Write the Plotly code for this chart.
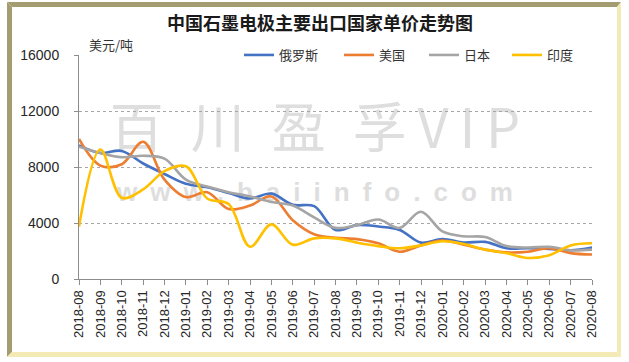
import plotly.graph_objects as go

months = ["2018-08", "2018-09", "2018-10", "2018-11", "2018-12", "2019-01", "2019-02",
          "2019-03", "2019-04", "2019-05", "2019-06", "2019-07", "2019-08", "2019-09",
          "2019-10", "2019-11", "2019-12", "2020-01", "2020-02", "2020-03", "2020-04",
          "2020-05", "2020-06", "2020-07", "2020-08"]

russia = [9550, 9000, 9150, 8250, 7500, 6800, 6550, 6150, 5750, 6100, 5300, 5200,
          3500, 3850, 3750, 3500, 2600, 2850, 2600, 2650, 2200, 2200, 2150, 2050, 2250]
usa = [10000, 8100, 8200, 9800, 7100, 5850, 6200, 5000, 5250, 5900, 4200, 3200,
       2950, 2850, 2550, 1950, 2400, 2750, 2450, 2100, 1900, 1950, 2200, 1850, 1750]
japan = [9450, 9000, 8700, 8800, 8600, 7100, 6600, 6200, 5900, 5500, 5250, 4400,
         3650, 3850, 4250, 3650, 4800, 3400, 3050, 3000, 2350, 2250, 2300, 2050, 2100]
india = [3750, 9250, 5800, 6400, 7700, 8050, 5750, 5350, 2300, 3900, 2450, 2900,
         2900, 2600, 2350, 2200, 2400, 2700, 2500, 2100, 1850, 1500, 1700, 2400, 2550]

series = [("俄罗斯", russia, "#4472C4"), ("美国", usa, "#ED7D31"),
          ("日本", japan, "#A5A5A5"), ("印度", india, "#FFC000")]

y_ticks = [0, 4000, 8000, 12000, 16000]

W, H = 629, 362
L, R, T, B = 79, 37, 55, 83
PW, PH = W - L - R, H - T - B


def px(x):
    return (x - L) / PW


def py(y):
    return (H - B - y) / PH


legend_x = [239, 339, 424, 507]

fig = go.Figure()
for i, (name, vals, color) in enumerate(series):
    fig.add_trace(go.Scatter(x=months, y=vals, name=name, mode="lines",
                             legend="legend" if i == 0 else f"legend{i + 1}",
                             line=dict(color=color, width=2.6, shape="spline", smoothing=1.0)))

khaki = "#a59d72"
pale = "#f4eab6"


def path(pts):
    return "M " + " L ".join(f"{px(a):.5f},{py(b):.5f}" for a, b in pts) + " Z"


wm_color = "#dedede"
shapes = [
    dict(type="path", xref="paper", yref="paper", path=path([(7, 2), (621, 2), (617, 7), (12, 7)]),
         fillcolor=khaki, line=dict(width=0), layer="below"),
    dict(type="path", xref="paper", yref="paper", path=path([(7, 2), (12, 7), (12, 352), (7, 357)]),
         fillcolor=khaki, line=dict(width=0), layer="below"),
    dict(type="path", xref="paper", yref="paper", path=path([(621, 2), (621, 357), (617, 352), (617, 7)]),
         fillcolor=pale, line=dict(width=0), layer="below"),
    dict(type="path", xref="paper", yref="paper", path=path([(7, 357), (621, 357), (617, 352), (12, 352)]),
         fillcolor=pale, line=dict(width=0), layer="below"),
    dict(type="rect", xref="paper", yref="paper", x0=px(100), x1=px(530), y0=py(160), y1=py(106),
         line=dict(width=0), fillcolor="rgba(0,0,0,0)", layer="between",
         label=dict(text="百\u2002川\u2002盈\u2002孚\u2009V\u2009I\u2009P",
                    font=dict(family="Noto Sans CJK SC", size=54, color=wm_color),
                    textposition="middle center")),
    dict(type="rect", xref="paper", yref="paper", x0=px(100), x1=px(530), y0=py(203), y1=py(177),
         line=dict(width=0), fillcolor="rgba(0,0,0,0)", layer="between",
         label=dict(text="\u2002".join("www.baiinfo.com"),
                    font=dict(family="Liberation Sans", size=26, color=wm_color, weight="bold"),
                    textposition="middle center")),
]

annotations = [
    dict(text="<b>中国石墨电极主要出口国家单价走势图</b>", xref="paper", yref="paper",
         x=px(320), y=py(22), xanchor="center", yanchor="middle", showarrow=False,
         font=dict(family="Noto Sans CJK SC", size=18, color="#1a1a1a")),
    dict(text="美元/吨", xref="paper", yref="paper", x=px(87), y=py(45),
         xanchor="left", yanchor="middle", showarrow=False,
         font=dict(family="Noto Sans CJK SC", size=13, color="#333333")),
]

legend_font = dict(family="Noto Sans CJK SC", size=13, color="#333333")
legends = {}
for i, lx in enumerate(legend_x):
    key = "legend" if i == 0 else f"legend{i + 1}"
    legends[key] = dict(orientation="h", x=px(lx), y=py(55), xanchor="left", yanchor="middle",
                        bgcolor="rgba(0,0,0,0)", font=legend_font, itemwidth=30)

fig.update_layout(
    width=W, height=H,
    margin=dict(l=L, r=R, t=T, b=B, pad=0),
    paper_bgcolor="white", plot_bgcolor="white",
    shapes=shapes, annotations=annotations,
    showlegend=True,
    xaxis=dict(type="category", categoryorder="array", categoryarray=months,
               range=[0, len(months) - 1], tickangle=-90,
               showline=True, linecolor="#8c8c8c", linewidth=1,
               ticks="outside", ticklen=5, tickcolor="#8c8c8c",
               showgrid=False, tickfont=dict(family="Liberation Sans", size=13, color="#262626")),
    yaxis=dict(range=[0, 16000], tickvals=y_ticks, ticktext=[str(v) for v in y_ticks],
               showline=True, linecolor="#8c8c8c", linewidth=1,
               ticks="outside", ticklen=4, tickcolor="#8c8c8c",
               showgrid=True, gridcolor="#a6a6a6", griddash="dot", gridwidth=1,
               zeroline=False,
               tickfont=dict(family="Liberation Sans", size=14, color="#262626"),
               ticklabelstandoff=12),
)
fig.update_layout(**legends)

fig.write_html("out.html", config={"displayModeBar": False},
               post_script="document.body.style.margin='0';document.body.style.overflow='hidden';")
